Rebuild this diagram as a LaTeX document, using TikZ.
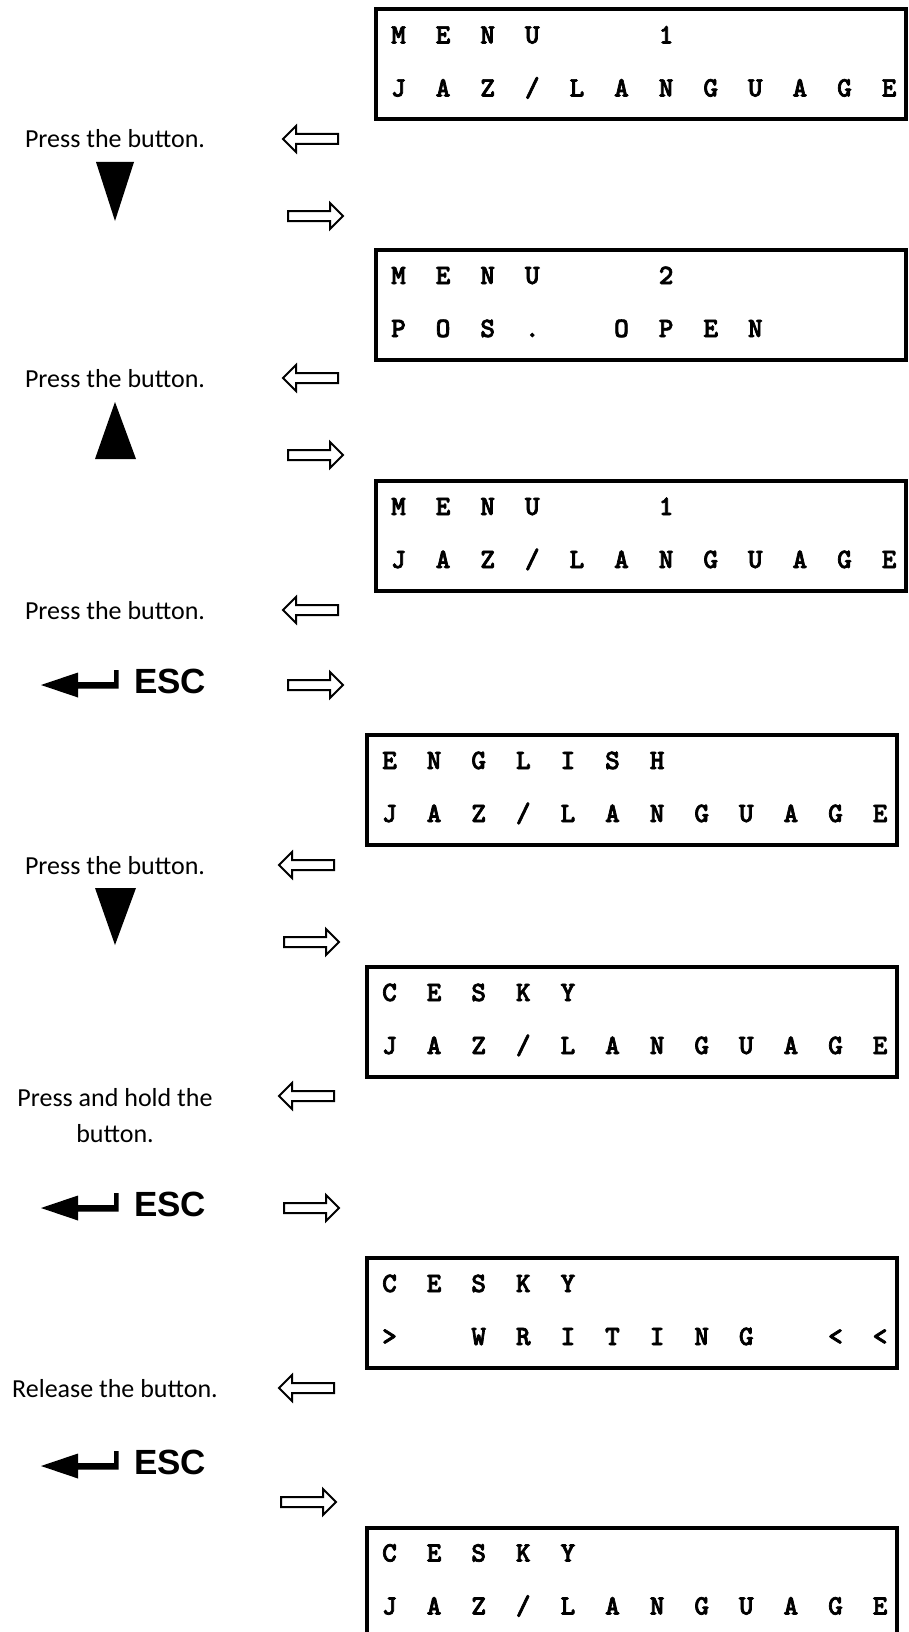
\documentclass[tikz,border=0pt]{standalone}
\usepackage{fontspec}
\usetikzlibrary{shapes.arrows}
\newfontfamily\lcdfont{lmmonolt10-bold}[Extension=.otf, FakeBold=2.5]
\newfontfamily\notefont{Carlito}
\newfontfamily\keyfont{Liberation Sans}
\newcommand\lcdrow[1]{\lcdnext#1\relax}
\newcommand\lcdnext[1]{\ifx\relax#1\else\makebox[44.6pt]{\ifx*#1\else#1\fi}\expandafter\lcdnext\fi}
\tikzset{
	lcdbox/.style={draw, line width=4pt, minimum width=530pt, minimum height=110pt, anchor=north west, inner sep=0pt, outer sep=0pt},
	lcdline/.style={anchor=base west, inner sep=0pt, font=\lcdfont\fontsize{28}{28}\selectfont},
	note/.style={anchor=base, align=center, inner sep=0pt, font=\notefont\fontsize{26}{36}\selectfont},
	esc/.style={anchor=base west, inner sep=0pt, font=\keyfont\bfseries\fontsize{35}{35}\selectfont},
	hollow/.style={single arrow, draw, line width=2pt, fill=white, inner xsep=0pt, inner ysep=4pt, minimum height=55pt, single arrow head extend=8pt}
}
\begin{document}
\begin{tikzpicture}[x=1pt,y=-1pt]
	\useasboundingbox (0,0) rectangle (908,1632);

	\node[lcdbox] (lcd1) at (376,9.5) {};
	\node[lcdline] (lcd1a) at ([yshift=-34pt]lcd1.north west) {\lcdrow{MENU**1}};
	\node[lcdline] (lcd1b) at ([yshift=-87pt]lcd1.north west) {\lcdrow{JAZ/LANGUAGE}};

	\node[lcdbox] (lcd2) at (376,250) {};
	\node[lcdline] (lcd2a) at ([yshift=-34pt]lcd2.north west) {\lcdrow{MENU**2}};
	\node[lcdline] (lcd2b) at ([yshift=-87pt]lcd2.north west) {\lcdrow{POS.*OPEN}};

	\node[lcdbox] (lcd3) at (376,481) {};
	\node[lcdline] (lcd3a) at ([yshift=-34pt]lcd3.north west) {\lcdrow{MENU**1}};
	\node[lcdline] (lcd3b) at ([yshift=-87pt]lcd3.north west) {\lcdrow{JAZ/LANGUAGE}};

	\node[lcdbox] (lcd4) at (367,735) {};
	\node[lcdline] (lcd4a) at ([yshift=-34pt]lcd4.north west) {\lcdrow{ENGLISH}};
	\node[lcdline] (lcd4b) at ([yshift=-87pt]lcd4.north west) {\lcdrow{JAZ/LANGUAGE}};

	\node[lcdbox] (lcd5) at (367,967) {};
	\node[lcdline] (lcd5a) at ([yshift=-34pt]lcd5.north west) {\lcdrow{CESKY}};
	\node[lcdline] (lcd5b) at ([yshift=-87pt]lcd5.north west) {\lcdrow{JAZ/LANGUAGE}};

	\node[lcdbox] (lcd6) at (367,1258) {};
	\node[lcdline] (lcd6a) at ([yshift=-34pt]lcd6.north west) {\lcdrow{CESKY}};
	\node[lcdline] (lcd6b) at ([yshift=-87pt]lcd6.north west) {\lcdrow{>*WRITING*<<}};

	\node[lcdbox] (lcd7) at (367,1527.5) {};
	\node[lcdline] (lcd7a) at ([yshift=-34pt]lcd7.north west) {\lcdrow{CESKY}};
	\node[lcdline] (lcd7b) at ([yshift=-87pt]lcd7.north west) {\lcdrow{JAZ/LANGUAGE}};

	\node[note] (press1) at (115,148) {Press the button.};
	\node[note] (press2) at (115,387.5) {Press the button.};
	\node[note] (press3) at (115,619.5) {Press the button.};
	\node[note] (press4) at (115,874.5) {Press the button.};
	\node[note] (hold) at (115,1142.5) {Press and hold the\\button.};
	\node[note] (release) at (115,1397) {Release the button.};

	\fill (96,162) -- (134,162) -- (115,221) -- cycle;
	\fill (95,459) -- (136,459) -- (115,402) -- cycle;
	\fill (95,888) -- (136,888) -- (115,945) -- cycle;

	\foreach \y [count=\i] in {685,1208,1466} {
		\fill (41,\y) -- (78,\y-12.5) -- (78,\y-3) -- (114,\y-3) -- (114,\y-15) -- (118.5,\y-15) -- (118.5,\y+3.5) -- (78,\y+3.5) -- (78,\y+12.5) -- cycle;
		\node[esc] (esc\i) at (134,\y+8.3) {ESC};
	}

	\foreach \x/\y [count=\i] in {313/139,313/378,313/610,309/865,309/1096,309/1388} {
		\node[hollow, shape border rotate=180] (back\i) at (\x,\y) {};
	}
	\foreach \x/\y [count=\i] in {313/216,313/455,313/685,309/942,309/1208,306/1502} {
		\node[hollow] (next\i) at (\x,\y) {};
	}
\end{tikzpicture}
\end{document}
